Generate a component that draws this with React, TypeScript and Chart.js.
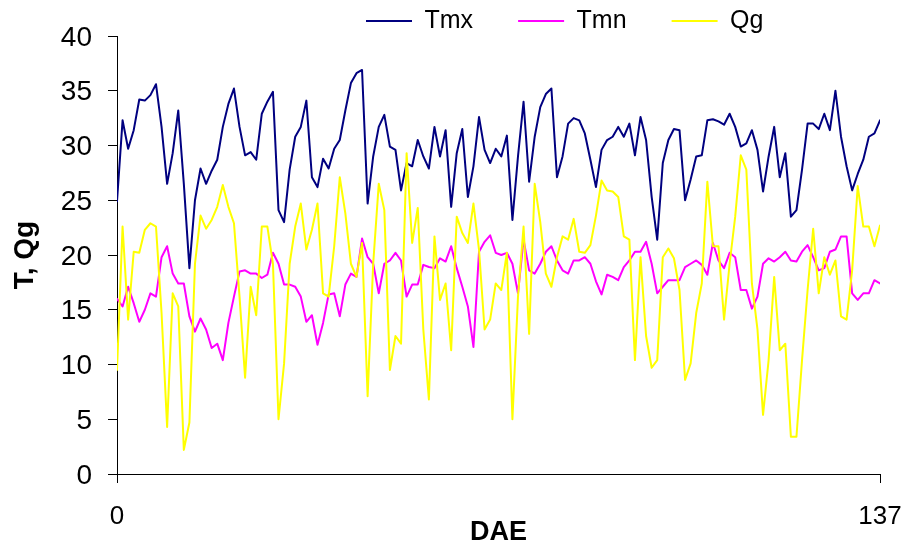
import React, { useEffect, useRef } from 'react';
import { Chart, registerables } from 'chart.js';

Chart.register(...registerables);

// Days after emergence (x categories)
const DAE = [
  0, 1, 2, 3, 4, 5, 6, 7, 8, 9, 10, 11, 12, 13, 14, 15, 16, 17, 18, 19,
  20, 21, 22, 23, 24, 25, 26, 27, 28, 29, 30, 31, 32, 33, 34, 35, 36, 37, 38, 39,
  40, 41, 42, 43, 44, 45, 46, 47, 48, 49, 50, 51, 52, 53, 54, 55, 56, 57, 58, 59,
  60, 61, 62, 63, 64, 65, 66, 67, 68, 69, 70, 71, 72, 73, 74, 75, 76, 77, 78, 79,
  80, 81, 82, 83, 84, 85, 86, 87, 88, 89, 90, 91, 92, 93, 94, 95, 96, 97, 98, 99,
  100, 101, 102, 103, 104, 105, 106, 107, 108, 109, 110, 111, 112, 113, 114, 115, 116, 117, 118, 119,
  120, 121, 122, 123, 124, 125, 126, 127, 128, 129, 130, 131, 132, 133, 134, 135, 136, 137,
];

const TMX = [
  24.9, 32.3, 29.7, 31.4, 34.2, 34.1, 34.6, 35.6, 31.7, 26.5, 29.3, 33.2, 26.5, 18.8, 25.0, 27.9, 26.5, 27.7, 28.7, 31.7,
  33.8, 35.2, 31.7, 29.1, 29.4, 28.7, 32.9, 34.0, 34.9, 24.1, 23.0, 27.8, 30.8, 31.7, 34.1, 27.1, 26.2, 28.8, 27.9, 29.7,
  30.5, 33.2, 35.7, 36.6, 36.9, 24.7, 29.0, 31.7, 32.8, 29.9, 29.6, 25.9, 28.4, 28.1, 30.5, 29.0, 27.9, 31.7, 29.0, 31.4,
  24.4, 29.3, 31.5, 25.3, 28.1, 32.6, 29.6, 28.4, 29.7, 29.0, 30.9, 23.2, 29.0, 34.0, 26.7, 30.8, 33.5, 34.7, 35.2, 27.1,
  29.0, 32.0, 32.5, 32.3, 31.1, 28.7, 26.2, 29.6, 30.5, 30.8, 31.7, 30.8, 32.0, 29.1, 32.6, 30.5, 25.3, 21.4, 28.4, 30.5,
  31.5, 31.4, 25.0, 26.9, 29.0, 29.1, 32.3, 32.4, 32.2, 31.9, 32.9, 31.7, 29.9, 30.2, 31.4, 29.6, 25.8, 29.0, 31.7, 27.1,
  29.3, 23.5, 24.1, 27.8, 32.0, 32.0, 31.5, 32.9, 31.4, 35.0, 30.8, 28.1, 25.9, 27.4, 28.7, 30.8, 31.1, 32.3,
];

const TMN = [
  16.0, 15.3, 17.1, 15.6, 13.9, 15.0, 16.5, 16.2, 19.8, 20.8, 18.3, 17.4, 17.4, 14.4, 13.0, 14.2, 13.2, 11.5, 11.9, 10.4,
  13.8, 16.2, 18.5, 18.6, 18.3, 18.3, 17.9, 18.2, 20.2, 19.2, 17.3, 17.3, 17.1, 16.2, 13.9, 14.5, 11.8, 13.8, 16.4, 16.5,
  14.4, 17.3, 18.3, 18.0, 21.5, 19.8, 19.2, 16.5, 19.2, 19.5, 20.2, 19.5, 16.2, 17.3, 17.3, 19.1, 18.9, 18.8, 19.7, 19.4,
  20.8, 18.8, 17.1, 15.3, 11.6, 20.3, 21.2, 21.8, 20.2, 20.0, 20.2, 19.2, 16.5, 21.4, 18.6, 18.3, 19.2, 20.3, 20.8, 19.5,
  18.6, 18.3, 19.5, 19.5, 19.8, 19.2, 17.6, 16.4, 18.2, 18.0, 17.7, 18.9, 19.5, 20.3, 20.3, 21.2, 19.2, 16.5, 17.1, 17.7,
  17.7, 17.7, 18.9, 19.2, 19.5, 19.1, 18.2, 21.1, 19.5, 18.8, 20.2, 19.8, 16.8, 16.8, 15.1, 16.2, 19.2, 19.7, 19.4, 19.8,
  20.3, 19.5, 19.4, 20.3, 20.9, 19.8, 18.6, 18.8, 20.3, 20.5, 21.7, 21.7, 16.5, 15.9, 16.5, 16.5, 17.7, 17.4,
];

const QG = [
  9.5, 22.6, 14.1, 20.3, 20.2, 22.3, 22.9, 22.6, 14.7, 4.3, 16.5, 15.3, 2.2, 4.7, 19.2, 23.6, 22.4, 23.2, 24.4, 26.4,
  24.4, 22.9, 16.2, 8.8, 17.1, 14.5, 22.6, 22.6, 19.2, 5.0, 10.1, 19.2, 22.6, 24.7, 20.5, 22.3, 24.7, 16.5, 16.2, 20.8,
  27.1, 23.8, 19.2, 18.0, 21.1, 7.1, 19.2, 26.5, 24.1, 9.5, 12.6, 11.9, 29.3, 21.1, 24.3, 13.2, 6.8, 21.7, 15.9, 17.4,
  11.3, 23.5, 22.0, 21.1, 24.7, 20.5, 13.2, 14.1, 17.4, 16.8, 20.2, 5.0, 16.2, 22.6, 12.8, 26.5, 23.0, 18.3, 17.1, 19.8,
  21.7, 21.4, 23.3, 20.3, 20.2, 20.9, 23.6, 26.8, 25.9, 25.8, 25.3, 21.7, 21.4, 10.4, 19.8, 12.6, 9.7, 10.4, 19.8, 20.6,
  19.7, 16.8, 8.6, 10.1, 14.7, 17.4, 26.7, 20.8, 20.8, 14.1, 19.2, 23.5, 29.1, 27.8, 17.4, 13.2, 5.4, 10.4, 18.0, 11.3,
  11.9, 3.4, 3.4, 10.4, 16.8, 22.4, 16.5, 19.8, 18.2, 19.5, 14.4, 14.1, 18.6, 26.3, 22.6, 22.6, 20.8, 22.7,
];

const SERIES_NAMES = ['Tmx', 'Tmn', 'Qg'];
const X_TICKS = [0, 137];
const Y_MIN = 0;
const Y_MAX = 40;
const Y_STEP = 5;

const W = 907;
const H = 544;

function hasFont(name: string): boolean {
  const c = document.createElement('canvas').getContext('2d');
  if (!c) return false;
  const sample = '0137 DAE';
  c.font = '40px monospace';
  const a = c.measureText(sample).width;
  c.font = `40px '${name}', monospace`;
  const b = c.measureText(sample).width;
  return Math.abs(a - b) > 0.5;
}

const LEGEND_FONT = 25;
const LEGEND_BOX = 46;
const LEGEND_PAD = 45;
const LEGEND_FIRST_X = 366;
const LEGEND_MID_Y = 21;

const legendPlacement = {
  id: 'legendPlacement',
  beforeUpdate(chart: any) {
    const lg = chart.legend;
    if (!lg || lg.__placed) return;
    lg.__placed = true;
    const fit = lg.fit;
    lg.fit = function (this: any) {
      fit.call(this);
      this.height = 36;
    };
    const draw = lg.draw;
    lg.draw = function (this: any, ...args: any[]) {
      const t = this.top;
      const l = this.left;
      this.top = LEGEND_MID_Y - LEGEND_FONT / 2 - LEGEND_PAD;
      this.left = LEGEND_FIRST_X - LEGEND_PAD;
      draw.apply(this, args);
      this.top = t;
      this.left = l;
    };
  },
};

export default function App() {
  const ref = useRef<HTMLCanvasElement | null>(null);

  useEffect(() => {
    if (!ref.current) return;
    const narrow = hasFont('Liberation Sans Narrow');
    const sans = "'Liberation Sans', Arial, Helvetica, sans-serif";
    const xFamily = narrow ? "'Liberation Sans Narrow', 'Liberation Sans', Arial, sans-serif" : sans;
    const xTickSize = narrow ? 31 : 26;
    const xTitleSize = narrow ? 33 : 27;

    const chart = new Chart(ref.current, {
      type: 'line',
      data: {
        labels: DAE,
        datasets: [
          { label: SERIES_NAMES[0], data: TMX, borderColor: '#000080', backgroundColor: '#000080', borderWidth: 2, order: 2 },
          { label: SERIES_NAMES[1], data: TMN, borderColor: '#FF00FF', backgroundColor: '#FF00FF', borderWidth: 2, order: 1 },
          { label: SERIES_NAMES[2], data: QG, borderColor: '#FFFF00', backgroundColor: '#FFFF00', borderWidth: 2, order: 0 },
        ],
      },
      options: {
        responsive: false,
        animation: false,
        devicePixelRatio: 1,
        layout: { padding: { left: 0, right: 27, top: 0, bottom: 0 } },
        elements: {
          point: { radius: 0, hoverRadius: 0 },
          line: { borderWidth: 2, tension: 0, borderJoinStyle: 'round', borderCapStyle: 'round', fill: false },
        },
        plugins: {
          tooltip: { enabled: false },
          legend: {
            display: true,
            position: 'top',
            align: 'start',
            labels: {
              usePointStyle: true,
              pointStyle: 'line',
              pointStyleWidth: LEGEND_BOX,
              padding: LEGEND_PAD,
              color: '#000',
              font: { family: sans, size: LEGEND_FONT },
              sort: (a: any, b: any) => a.datasetIndex - b.datasetIndex,
            },
          },
        },
        scales: {
          x: {
            type: 'linear',
            min: X_TICKS[0],
            max: X_TICKS[X_TICKS.length - 1],
            afterBuildTicks: (s: any) => {
              s.ticks = X_TICKS.map((v) => ({ value: v }));
            },
            afterFit: (s: any) => {
              s.height = 70;
              s.paddingLeft = 0;
              s.paddingRight = 0;
            },
            grid: {
              display: true,
              drawOnChartArea: false,
              drawTicks: true,
              tickLength: 9,
              color: '#000',
              tickColor: '#000',
              lineWidth: 1,
            },
            border: { display: true, color: '#000', width: 1 },
            ticks: {
              color: '#000',
              padding: 18,
              maxRotation: 0,
              autoSkip: false,
              font: { family: xFamily, size: xTickSize },
              callback: (v: any) => String(v),
            },
            title: {
              display: true,
              text: 'DAE',
              color: '#000',
              font: { family: xFamily, size: xTitleSize, weight: 'bold', lineHeight: 0.8 },
              padding: { top: 0, bottom: 1 },
            },
          },
          y: {
            min: Y_MIN,
            max: Y_MAX,
            afterFit: (s: any) => {
              s.width = 117;
            },
            grid: {
              display: true,
              drawOnChartArea: false,
              drawTicks: true,
              tickLength: 9,
              color: '#000',
              tickColor: '#000',
              lineWidth: 1,
            },
            border: { display: true, color: '#000', width: 1 },
            ticks: {
              stepSize: Y_STEP,
              color: '#000',
              padding: 16,
              labelOffset: 2,
              font: { family: sans, size: 28 },
            },
            title: {
              display: true,
              text: 'T, Qg',
              color: '#000',
              font: { family: sans, size: 28, weight: 'bold' },
              padding: { top: 8.5, bottom: 0 },
            },
          },
        },
      },
      plugins: [legendPlacement],
    } as any);

    return () => {
      chart.destroy();
    };
  }, []);

  return (
    <div style={{ position: 'fixed', left: 0, top: 0, width: W, height: H, background: '#fff' }}>
      <canvas ref={ref} width={W} height={H} style={{ display: 'block', width: W, height: H }} />
    </div>
  );
}
